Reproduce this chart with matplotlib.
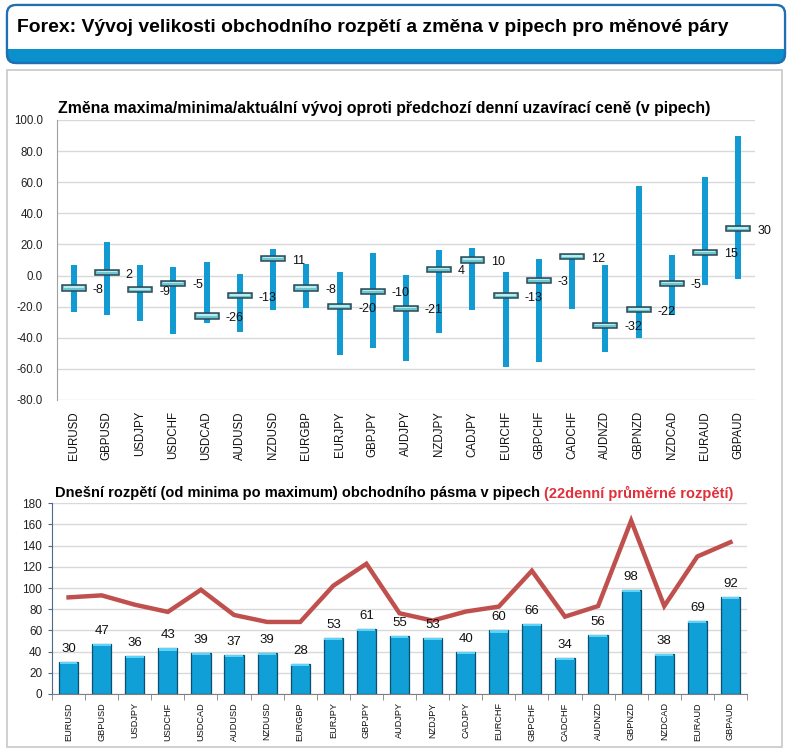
import matplotlib
matplotlib.use('Agg')
import matplotlib.pyplot as plt
import numpy as np
from matplotlib.patches import FancyBboxPatch, Rectangle
from matplotlib import font_manager

pairs = ['EURUSD', 'GBPUSD', 'USDJPY', 'USDCHF', 'USDCAD', 'AUDUSD', 'NZDUSD',
         'EURGBP', 'EURJPY', 'GBPJPY', 'AUDJPY', 'NZDJPY', 'CADJPY', 'EURCHF',
         'GBPCHF', 'CADCHF', 'AUDNZD', 'GBPNZD', 'NZDCAD', 'EURAUD', 'GBPAUD']
change_max = [7, 21.5, 7, 5.6, 9, 1.3, 17, 7.7, 2, 14.8, 0.6, 16.5, 17.8, 2,
              10.7, 13, 6.9, 57.5, 12.9, 63.5, 89.7]
change_min = [-23.4, -25.4, -29.2, -37.6, -30.3, -36.1, -22.2, -20.9, -51.2, -46.7,
              -54.8, -36.8, -22.2, -58.9, -55.7, -21.5, -49, -40.2, -25.4, -5.8, -1.9]
change_now = [-8, 2, -9, -5, -26, -13, 11, -8, -20, -10, -21, 4, 10, -13, -3, 12,
              -32, -22, -5, 15, 30]
range_today = [30, 47, 36, 43, 39, 37, 39, 28, 53, 61, 55, 53, 40, 60, 66, 34, 56,
               98, 38, 69, 92]
range_avg22 = [91.2, 93.1, 84.3, 77.5, 98.4, 74.6, 68, 68, 102.2, 122.9, 76.2, 69.3,
               77.8, 82.5, 116.3, 73, 83, 163.6, 83, 129.8, 143.3]
top_yticks = [-80, -60, -40, -20, 0, 20, 40, 60, 80, 100]
bottom_yticks = [0, 20, 40, 60, 80, 100, 120, 140, 160, 180]

main_title = 'Forex: Vývoj velikosti obchodního rozpětí a změna v pipech pro měnové páry'
top_title = 'Změna maxima/minima/aktuální vývoj oproti předchozí denní uzavírací ceně (v pipech)'
bottom_title_a = 'Dnešní rozpětí (od minima po maximum) obchodního pásma v pipech '
bottom_title_b = '(22denní průměrné rozpětí)'

W, H = 788, 750
plt.rcParams['font.family'] = ['Liberation Sans', 'DejaVu Sans']
installed = {f.name for f in font_manager.fontManager.ttflist}
narrow = 'Liberation Sans Narrow' if 'Liberation Sans Narrow' in installed else 'Liberation Sans'

fig = plt.figure(figsize=(W / 100, H / 100), dpi=100)
fig.patch.set_facecolor('white')

# background axes in pixel coordinates
bg = fig.add_axes([0, 0, 1, 1], zorder=-5)
bg.set_xlim(0, W)
bg.set_ylim(H, 0)
bg.axis('off')

box = FancyBboxPatch((7, 5), 778, 58, boxstyle='round,pad=0,rounding_size=9',
                     facecolor='#0a90cc', edgecolor='#1f6fb2', linewidth=1.6)
bg.add_patch(box)
white = Rectangle((0, 0), W, 49, facecolor='white', edgecolor='none')
bg.add_patch(white)
white.set_clip_path(box)
box2 = FancyBboxPatch((7, 5), 778, 58, boxstyle='round,pad=0,rounding_size=9',
                      facecolor='none', edgecolor='#1f6fb2', linewidth=1.6)
bg.add_patch(box2)
bg.add_patch(Rectangle((7, 70), 775, 677, facecolor='white', edgecolor='#c8c8c8',
                       linewidth=1.2))

fig.canvas.draw()
renderer = fig.canvas.get_renderer()


def fit_text(x, y, s, target_w, size, **kw):
    t = bg.text(x, y, s, fontsize=size, va='center', ha='left', **kw)
    w = t.get_window_extent(renderer).width
    t.set_fontsize(size * target_w / w)
    return t


fit_text(17, 28, main_title, 712, 14, fontweight='bold', color='black',
         family=[narrow, 'DejaVu Sans'])
fit_text(58, 108, top_title, 654, 11, fontweight='bold', color='black')
ta = fit_text(55, 493, bottom_title_a + bottom_title_b, 678, 11, fontweight='bold')
fs = ta.get_fontsize()
ta.set_text(bottom_title_a)
ta.set_color('black')
fig.canvas.draw()
wa = ta.get_window_extent(renderer).width
bg.text(55 + wa, 493, bottom_title_b, fontsize=fs, va='center', ha='left',
        fontweight='bold', color='#e0303a')

x = np.arange(len(pairs))

# ---------------- top chart ----------------
ax1 = fig.add_axes([57 / W, 1 - 400 / H, (755 - 57) / W, 280 / H])
ax1.set_facecolor('none')
ax1.set_xlim(-0.5, len(pairs) - 0.5)
ax1.set_ylim(-80, 100)
ax1.set_yticks(top_yticks)
ax1.set_yticklabels([f'{v:.1f}' for v in top_yticks], fontsize=8.3, color='#222222')
ax1.set_xticks(x)
ax1.set_xticklabels(pairs, rotation=90, fontsize=8.3, color='#111111')
ax1.tick_params(axis='both', length=0)
ax1.tick_params(axis='y', pad=10)
ax1.tick_params(axis='x', pad=8)
ax1.grid(axis='y', color='#d9d9d9', linewidth=1)
ax1.set_axisbelow(True)
for s in ['top', 'right', 'bottom']:
    ax1.spines[s].set_visible(False)
ax1.spines['left'].set_color('#a0a0a0')

hi = np.array(change_max)
lo = np.array(change_min)
now = np.array(change_now)
ax1.bar(x, hi - lo, bottom=lo, width=0.18, color='#129bd2', zorder=2)
th = 3.3
ax1.bar(x, th, bottom=now - th / 2, width=0.72, color='#6cc6d6', edgecolor='#2a4850',
        linewidth=1.1, zorder=3)
ax1.bar(x, th * 0.3, bottom=now, width=0.6, color='#b8ecf3', edgecolor='none', zorder=4)
for i, v in enumerate(change_now):
    ax1.annotate(f'{v}', xy=(i + 0.36, v), xytext=(5, -1.5), textcoords='offset points',
                 va='center', ha='left', fontsize=9, color='#111111', zorder=5)

# ---------------- bottom chart ----------------
ax2 = fig.add_axes([52 / W, 1 - 694 / H, (747 - 52) / W, 190.7 / H])
ax2.set_facecolor('none')
ax2.set_xlim(-0.5, len(pairs) - 0.5)
ax2.set_ylim(0, 180)
ax2.set_yticks(bottom_yticks)
ax2.set_yticklabels([str(v) for v in bottom_yticks], fontsize=8.5, color='#222222')
ax2.set_xticks(x)
ax2.set_xticklabels(pairs, rotation=90, fontsize=6.6, color='#111111')
ax2.set_xticks(np.arange(-0.5, len(pairs), 1), minor=True)
ax2.tick_params(axis='x', which='major', length=0, pad=6)
ax2.tick_params(axis='x', which='minor', length=4, color='#808080', direction='out')
ax2.tick_params(axis='y', length=3, color='#4a6a8a', direction='out', pad=4)
ax2.grid(axis='y', color='#d9d9d9', linewidth=1)
ax2.set_axisbelow(True)
for s in ['top', 'right']:
    ax2.spines[s].set_visible(False)
ax2.spines['left'].set_color('#4a6a8a')
ax2.spines['bottom'].set_color('#808080')

rt = np.array(range_today)
ax2.bar(x, rt, width=0.58, color='#109fd6', edgecolor='#0d4f6e', linewidth=0.9, zorder=2)
ax2.bar(x, np.full(len(rt), 2.0), bottom=rt - 2.0, width=0.54, color='#5fd3f5',
        edgecolor='none', zorder=3)
ax2.plot(x, range_avg22, color='#c0504d', linewidth=3.2, zorder=4, solid_joinstyle='miter')
for i, v in enumerate(range_today):
    ax2.annotate(f'{v}', xy=(i, v), xytext=(0, 5), textcoords='offset points',
                 ha='center', va='bottom', fontsize=9.5, color='#111111', zorder=5)

fig.savefig('out.png', dpi=100, facecolor='white')
